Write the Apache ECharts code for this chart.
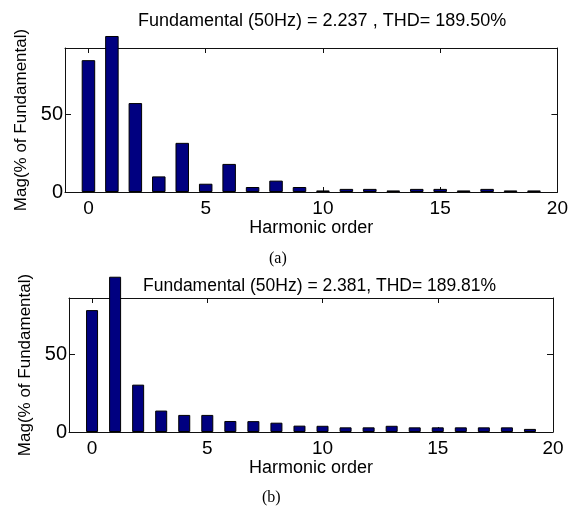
<!DOCTYPE html>
<html>
<head>
<meta charset="utf-8">
<script src="https://cdn.jsdelivr.net/npm/echarts@6/dist/echarts.min.js"></script>
<style>html,body{margin:0;padding:0;background:#fff}#c{width:571px;height:507px}</style>
</head>
<body>
<div id="c"></div>
<script>
const harmonics = [0,1,2,3,4,5,6,7,8,9,10,11,12,13,14,15,16,17,18,19];
const magA = [84.5, 100, 57, 10, 31.5, 5.3, 18, 3.2, 7.3, 3.2, 1, 2, 2, 1, 2, 2, 1, 2, 1, 1];
const magB = [78.5, 100, 30.5, 13.8, 11, 11, 7.1, 7, 6, 4.1, 4, 3, 3, 4, 3, 3, 3, 3, 3, 2];
const xTicks = [0, 5, 10, 15, 20];
const yTicks = [0, 50];
const titleA = 'Fundamental (50Hz) = 2.237 , THD= 189.50%';
const titleB = 'Fundamental (50Hz) = 2.381, THD= 189.81%';
const xName = 'Harmonic order';
const yName = 'Mag(% of Fundamental)';
const yMaxA = 92.3;
const yMaxB = 86.3;

const FONT = '"Liberation Sans", Arial, sans-serif';
const chart = echarts.init(document.getElementById('c'), null, {renderer: 'canvas'});

function xAxes(gi, gap) {
  return [
    {
      type: 'value', gridIndex: gi, min: -1, max: 20, position: 'bottom',
      name: xName, nameLocation: 'middle', nameGap: gap,
      nameTextStyle: {fontFamily: FONT, fontSize: 18, color: '#000'},
      axisLine: {show: true, onZero: false, lineStyle: {color: '#111', width: 1}},
      axisTick: {show: true, inside: true, length: 5, customValues: xTicks, lineStyle: {color: '#111'}},
      axisLabel: {show: true, customValues: xTicks, margin: 7, fontFamily: FONT, fontSize: 19, color: '#000'},
      splitLine: {show: false}
    },
    {
      type: 'value', gridIndex: gi, min: -1, max: 20, position: 'top',
      axisLine: {show: true, onZero: false, lineStyle: {color: '#111', width: 1}},
      axisTick: {show: true, inside: true, length: 5, customValues: xTicks, lineStyle: {color: '#111'}},
      axisLabel: {show: false},
      splitLine: {show: false}
    }
  ];
}
function yAxes(gi, ymax) {
  return [
    {
      type: 'value', gridIndex: gi, min: 0, max: ymax, position: 'left',
      name: yName, nameLocation: 'middle', nameGap: 27, nameRotate: 90,
      nameTextStyle: {fontFamily: FONT, fontSize: 17, color: '#000'},
      axisLine: {show: true, onZero: false, lineStyle: {color: '#111', width: 1}},
      axisTick: {show: true, inside: true, length: 6, customValues: yTicks, lineStyle: {color: '#111'}},
      axisLabel: {show: true, customValues: yTicks, margin: 2, fontFamily: FONT, fontSize: 20, color: '#000'},
      splitLine: {show: false}
    },
    {
      type: 'value', gridIndex: gi, min: 0, max: ymax, position: 'right',
      axisLine: {show: true, onZero: false, lineStyle: {color: '#111', width: 1}},
      axisTick: {show: true, inside: true, length: 6, customValues: yTicks, lineStyle: {color: '#111'}},
      axisLabel: {show: false},
      splitLine: {show: false}
    }
  ];
}

const option = {
  backgroundColor: '#fff',
  animation: false,
  title: [
    {text: titleA, left: 133, top: 7, textStyle: {fontFamily: FONT, fontSize: 18, fontWeight: 'normal', color: '#000'}},
    {text: titleB, left: 138, top: 272, textStyle: {fontFamily: FONT, fontSize: 17.5, fontWeight: 'normal', color: '#000'}},
    {text: '(a)', left: 264, top: 246, textStyle: {fontFamily: '"Liberation Serif", serif', fontSize: 16, fontWeight: 'normal', color: '#000'}},
    {text: '(b)', left: 257, top: 485, textStyle: {fontFamily: '"Liberation Serif", serif', fontSize: 16, fontWeight: 'normal', color: '#000'}}
  ],
  grid: [
    {left: 65, right: 12, top: 48, height: 144, show: false},
    {left: 69, right: 18, top: 298, height: 134, show: false}
  ],
  xAxis: [...xAxes(0, 27), ...xAxes(1, 23)],
  yAxis: [...yAxes(0, yMaxA), ...yAxes(1, yMaxB)],
  series: [
    {
      type: 'bar', xAxisIndex: 0, yAxisIndex: 0, barWidth: 13.5, clip: false,
      data: harmonics.map((h, i) => [h, magA[i]]),
      itemStyle: {color: '#000080', borderColor: '#000', borderWidth: 1}
    },
    {
      type: 'bar', xAxisIndex: 2, yAxisIndex: 2, barWidth: 12, clip: false,
      data: harmonics.map((h, i) => [h, magB[i]]),
      itemStyle: {color: '#000080', borderColor: '#000', borderWidth: 1}
    }
  ]
};
chart.setOption(option);
</script>
</body>
</html>
